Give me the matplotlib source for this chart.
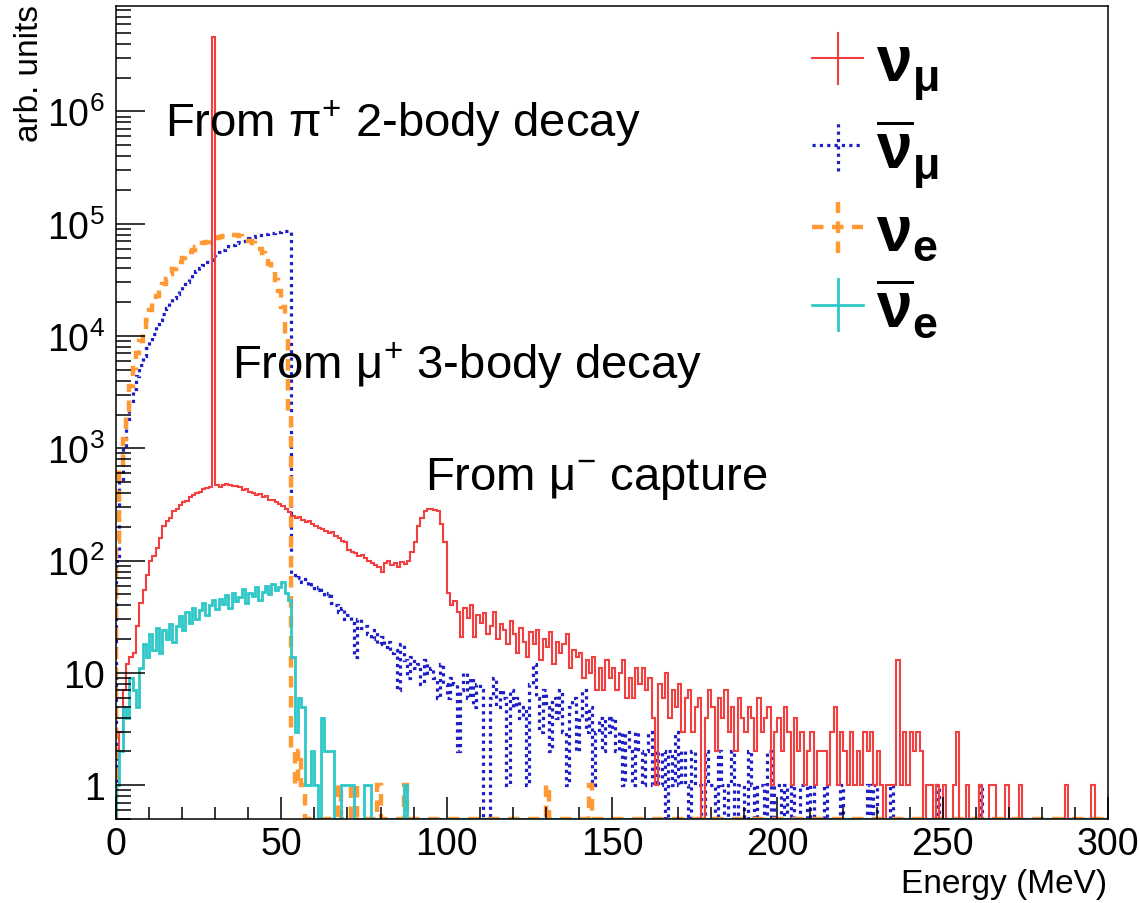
import numpy as np
import matplotlib
matplotlib.use('Agg')
import matplotlib.pyplot as plt
from matplotlib import ticker
from matplotlib.lines import Line2D
from matplotlib.legend_handler import HandlerBase

plt.rcParams['font.family'] = ['Liberation Sans', 'DejaVu Sans']
plt.rcParams['mathtext.fontset'] = 'custom'
plt.rcParams['mathtext.rm'] = 'Liberation Sans'
plt.rcParams['mathtext.it'] = 'Liberation Sans:italic'
plt.rcParams['mathtext.bf'] = 'Liberation Sans:bold'
plt.rcParams['mathtext.default'] = 'regular'

# 1 MeV bins from 0 to 300 MeV
n_bins = 300
bin_edges = np.arange(n_bins + 1)

# nu_mu : bins 0..212, then sparse tail
numu_main = [
    1, 3, 7, 12, 14, 15, 26, 42, 55, 75,
    100, 110, 130, 160, 205, 225, 240, 275, 290, 310,
    335, 340, 370, 385, 400, 410, 430, 440, 455, 4600000,
    470, 455, 475, 480, 470, 465, 460, 450, 425, 430,
    410, 400, 385, 395, 370, 375, 350, 345, 330, 320,
    305, 290, 270, 250, 240, 245, 230, 220, 225, 210,
    205, 195, 190, 185, 178, 180, 165, 160, 150, 148,
    125, 120, 118, 110, 112, 105, 100, 95, 92, 88,
    79, 95, 100, 92, 96, 88, 98, 94, 100, 119,
    146, 203, 240, 275, 290, 288, 280, 275, 210, 146,
    51, 40, 44, 35, 21, 38, 31, 40, 21, 33,
    28, 34, 22, 26, 35, 20, 27, 24, 18, 29,
    22, 15, 25, 19, 14, 23, 18, 24, 13, 20,
    17, 23, 12, 19, 15, 18, 22, 11, 16, 14,
    15, 9, 13, 10, 14, 7, 11, 7, 13, 9,
    11, 7, 10, 13, 6, 9, 6, 11, 8, 11,
    7, 9, 4, 1, 8, 6, 10, 4, 7, 5,
    8, 3, 6, 7, 3, 5, 6, 0, 4, 7,
    5, 2, 6, 4, 7, 3, 5, 2, 6, 4,
    3, 5, 4, 2, 6, 3, 4, 5, 1, 3,
    4, 2, 5, 3, 1, 4, 2, 3, 1, 2, 3, 1, 2,
]
numu_tail = {
    213: 2, 214: 2, 215: 1, 216: 3, 217: 5, 218: 1, 219: 3, 220: 2, 221: 1,
    222: 3, 223: 1, 224: 2, 225: 1, 226: 3, 227: 2, 228: 3, 229: 1, 230: 2,
    231: 1, 233: 1, 234: 1, 235: 1, 236: 13, 237: 1, 238: 3, 239: 1, 240: 3,
    241: 2, 242: 3, 243: 2, 245: 1, 246: 1, 248: 1, 250: 1, 253: 1, 254: 3,
    257: 1, 261: 1, 264: 1, 265: 1, 269: 1, 273: 1, 287: 1, 295: 1,
}

# anti nu_mu : bins 0..214, then sparse tail
numubar_main = [
    100, 500, 1000, 1700, 2500, 3400, 4400, 5500, 6700, 7800,
    9000, 10500, 12200, 14000, 15800, 17700, 19700, 21800, 23800, 25900,
    28000, 30500, 33000, 35500, 38000, 40500, 43000, 45500, 48000, 50500,
    53600, 56000, 58300, 60600, 62800, 64900, 67000, 69000, 70900, 72700,
    74400, 76000, 77500, 78900, 80200, 81400, 82500, 83500, 84400, 85200,
    85900, 86500, 87000, 75, 70, 72, 65, 68, 60, 62,
    55, 58, 50, 48, 52, 42, 40, 35, 38, 30,
    33, 28, 14, 30, 25, 26, 22, 20, 24, 18,
    21, 17, 19, 15, 16, 7, 18, 13, 9, 14,
    11, 12, 8, 13, 10, 11, 9, 6, 12, 8,
    6, 9, 8, 2, 7, 10, 6, 9, 5, 8,
    7, 0, 0, 6, 9, 5, 7, 6, 1, 7,
    5, 6, 4, 5, 1, 8, 12, 6, 3, 7,
    5, 2, 6, 4, 7, 3, 1, 5, 6, 2,
    4, 7, 3, 5, 1, 3, 4, 2, 4, 3,
    4, 2, 3, 1, 3, 2, 1, 3, 2, 1,
    2, 3, 1, 2, 1, 2, 0, 2, 1, 3,
    1, 2, 1, 0, 2, 1, 1, 0, 2, 1,
    1, 0, 2, 1, 0, 1, 2, 0, 1, 1,
    0, 2, 1, 0, 1, 1, 0, 2, 0, 1,
    1, 0, 1, 0, 1, 0, 0, 1, 1, 0,
    1, 0, 0, 0, 1,
]
numubar_tail = {219: 1, 227: 1, 229: 1, 234: 1, 248: 1, 261: 1}

# nu_e : bins 0..52, then sparse tail
nue_main = [
    150, 700, 1200, 2200, 3600, 5200, 7000, 9100, 11500, 14000,
    16900, 19800, 22800, 26000, 29200, 32500, 35800, 39200, 42600, 45900,
    49200, 52500, 55600, 58700, 61600, 64400, 67000, 69400, 71600, 73500,
    75200, 76700, 77800, 78600, 79000, 79100, 78800, 78000,
    75000, 73000, 70500, 67500, 64000, 59500, 55000, 50000, 44000, 38000,
    31500, 25000, 18000, 10000, 2000,
]
nue_tail = {53: 2, 54: 1, 55: 2, 56: 1, 67: 1, 71: 1, 72: 1, 79: 1, 87: 1,
            130: 1, 143: 1}

# anti nu_e : bins 0..54, then sparse tail
nuebar_main = [
    1, 2, 5, 4, 9, 7, 5, 11, 18, 14,
    22, 16, 25, 15, 24, 20, 27, 19, 26, 32,
    24, 35, 28, 38, 30, 36, 42, 33, 40, 45,
    37, 46, 41, 49, 38, 52, 44, 47, 56, 42,
    51, 48, 58, 45, 53, 60, 50, 62, 55, 58,
    65, 52, 45, 14, 3,
]
nuebar_tail = {55: 6, 56: 5, 57: 1, 58: 1, 59: 2, 60: 1, 62: 4, 63: 2, 64: 2,
               65: 2, 68: 1, 69: 1, 70: 1, 71: 1, 75: 1, 76: 1, 87: 1}

labels = [r'$\mathbf{\nu}_{\mathbf{\mu}}$', r'$\overline{\mathbf{\nu}}_{\mathbf{\mu}}$',
          r'$\mathbf{\nu}_{\mathbf{e}}$', r'$\overline{\mathbf{\nu}}_{\mathbf{e}}$']

y_min, y_max = 0.5, 8.7e6


def fill_hist(main, tail):
    h = np.zeros(n_bins)
    h[:len(main)] = main
    for k, v in tail.items():
        h[k] = v
    # empty bins sit on the lower frame, like ROOT does
    return np.where(h > 0, h, y_min)


class CrossHandler(HandlerBase):
    """ROOT style legend cross (horizontal + vertical bar)."""
    def create_artists(self, legend, orig_handle, xdescent, ydescent,
                       width, height, fontsize, trans):
        cx = width / 2 - xdescent
        cy = height / 2 - ydescent
        half = width / 2
        hline = Line2D([cx - half, cx + half], [cy, cy])
        vline = Line2D([cx, cx], [cy - half, cy + half])
        for ln in (hline, vline):
            ln.update_from(orig_handle)
            ln.set_transform(trans)
        return [hline, vline]


fig = plt.figure(figsize=(11.4, 9.04), dpi=100)
ax = fig.add_axes([0.1018, 0.0929, 0.8701, 0.8994])

styles = [
    # (data, colour, linestyle, linewidth)
    (fill_hist(numubar_main, numubar_tail), '#1e1ec8', (0, (1, 1.3)), 2.3),
    (fill_hist(nue_main, nue_tail), '#ff9933', (0, (2.6, 1.9)), 3.2),
    (fill_hist(numu_main, numu_tail), '#f24040', '-', 1.5),
    (fill_hist(nuebar_main, nuebar_tail), '#2ec8c8', '-', 2.0),
]
for h, c, ls, lw in styles:
    ax.stairs(h, bin_edges, baseline=y_min, color=c, linestyle=ls, linewidth=lw)

ax.set_yscale('log')
ax.set_xlim(0, 300)
ax.set_ylim(y_min, y_max)

ax.xaxis.set_major_locator(ticker.MultipleLocator(50))
ax.xaxis.set_minor_locator(ticker.MultipleLocator(10))
ax.yaxis.set_major_locator(ticker.FixedLocator([1, 10, 1e2, 1e3, 1e4, 1e5, 1e6]))
ax.yaxis.set_major_formatter(ticker.FixedFormatter(
    ['1', '10', r'$10^{2}$', r'$10^{3}$', r'$10^{4}$', r'$10^{5}$', r'$10^{6}$']))
ax.yaxis.set_minor_locator(ticker.LogLocator(base=10, subs=np.arange(2, 10), numticks=30))
ax.yaxis.set_minor_formatter(ticker.NullFormatter())

ax.tick_params(axis='both', which='both', direction='in', width=1.1, labelsize=27,
               top=False, right=False)
ax.tick_params(axis='y', which='major', length=21, pad=8)
ax.tick_params(axis='y', which='minor', length=11)
ax.tick_params(axis='x', which='major', length=16, pad=5)
ax.tick_params(axis='x', which='minor', length=8.5)
for sp in ax.spines.values():
    sp.set_linewidth(1.1)

fig.text(0.026, 0.994, 'arb. units', rotation=90, ha='center', va='top', fontsize=24)
fig.text(0.971, 1 - 885 / 904, 'Energy (MeV)', ha='right', va='center', fontsize=24)

ax.text(14.8, 10 ** 5.78, r'From $\pi^{+}$ 2-body decay', fontsize=34, va='baseline')
ax.text(35.1, 10 ** 3.63, r'From $\mu^{+}$ 3-body decay', fontsize=34, va='baseline')
ax.text(93.5, 10 ** 2.64, r'From $\mu^{-}$ capture', fontsize=34, va='baseline')

handles = [Line2D([], [], color=c, linestyle=ls, linewidth=lw)
           for (_, c, ls, lw) in [styles[2], styles[0], styles[1], styles[3]]]
ax.legend(handles, labels, handler_map={Line2D: CrossHandler()},
          loc='upper left', bbox_to_anchor=(0.7016, 0.966), frameon=False,
          fontsize=46, handlelength=0.8, handletextpad=0.2, labelspacing=0.22,
          borderpad=0, borderaxespad=0)

fig.savefig('out.png', dpi=100)
